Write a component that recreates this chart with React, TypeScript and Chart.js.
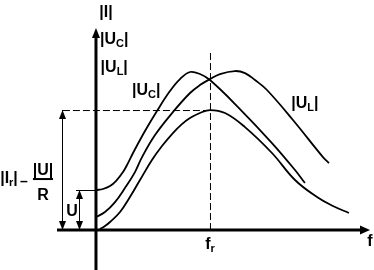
import React, { useEffect, useRef } from "react";
import { Chart, registerables } from "chart.js";

Chart.register(...registerables);

// Normalised units: frequency in f/f_r, amplitude relative to |I_r|
const F_RES = 1;
const I_RES = 1;
const U_SRC = 0.333;

const FREQ_I = [0.035, 0.079, 0.123, 0.211, 0.298, 0.386, 0.491, 0.579, 0.675, 0.754, 0.825, 0.912, 1.0, 1.132, 1.307, 1.544, 1.746, 1.939, 2.079, 2.219];
const AMP_I = [0.008, 0.033, 0.067, 0.15, 0.275, 0.417, 0.583, 0.7, 0.808, 0.883, 0.933, 0.975, 1.0, 0.975, 0.858, 0.642, 0.417, 0.275, 0.2, 0.142];

const FREQ_UC = [0, 0.061, 0.123, 0.175, 0.237, 0.281, 0.325, 0.43, 0.535, 0.649, 0.737, 0.825, 0.912, 1.0, 1.246, 1.544, 1.746, 1.833];
const AMP_UC = [0.333, 0.342, 0.367, 0.408, 0.483, 0.558, 0.642, 0.825, 0.992, 1.158, 1.258, 1.317, 1.3, 1.25, 1.025, 0.725, 0.5, 0.392];

const FREQ_UL = [0, 0.079, 0.167, 0.254, 0.342, 0.404, 0.518, 0.675, 0.825, 0.912, 1.0, 1.088, 1.219, 1.307, 1.395, 1.5, 1.728, 1.991, 2.044];
const AMP_UL = [0.108, 0.15, 0.233, 0.35, 0.483, 0.608, 0.792, 0.983, 1.142, 1.208, 1.258, 1.3, 1.325, 1.308, 1.25, 1.167, 0.917, 0.608, 0.558];

const FONT = '"Liberation Sans", Arial, sans-serif';

type Part = [string, boolean];

function drawRich(ctx: CanvasRenderingContext2D, parts: Part[], cx: number, cy: number, size: number) {
  const main = `bold ${size}px ${FONT}`;
  const sub = `bold ${Math.round(size * 0.7)}px ${FONT}`;
  let w = 0;
  for (const [t, s] of parts) {
    ctx.font = s ? sub : main;
    w += ctx.measureText(t).width;
  }
  let xx = cx - w / 2;
  const base = cy + size * 0.36;
  ctx.textBaseline = "alphabetic";
  ctx.textAlign = "left";
  for (const [t, s] of parts) {
    ctx.font = s ? sub : main;
    ctx.fillText(t, xx, base + (s ? size * 0.18 : 0));
    xx += ctx.measureText(t).width;
  }
}

function arrowHead(ctx: CanvasRenderingContext2D, tx: number, ty: number, dx: number, dy: number, len: number, half: number) {
  const bx = tx - dx * len;
  const by = ty - dy * len;
  ctx.beginPath();
  ctx.moveTo(tx, ty);
  ctx.lineTo(bx - dy * half, by + dx * half);
  ctx.lineTo(bx + dy * half, by - dx * half);
  ctx.closePath();
  ctx.fill();
}

function seg(ctx: CanvasRenderingContext2D, x1: number, y1: number, x2: number, y2: number) {
  ctx.beginPath();
  ctx.moveTo(x1, y1);
  ctx.lineTo(x2, y2);
  ctx.stroke();
}

const annot = {
  id: "annot",
  afterDatasetsDraw(chart: any) {
    const { ctx } = chart;
    const X = (v: number) => chart.scales.x.getPixelForValue(v);
    const Y = (v: number) => chart.scales.y.getPixelForValue(v);
    ctx.save();
    ctx.strokeStyle = "#000";
    ctx.fillStyle = "#000";

    // axes
    ctx.lineWidth = 3;
    const ox = X(0), oy = Y(0);
    seg(ctx, ox, Y(-0.34), ox, Y(1.6));
    arrowHead(ctx, ox, Y(1.683), 0, -1, 10, 4);
    seg(ctx, X(-0.342), oy, X(2.33), oy);
    arrowHead(ctx, X(2.404), oy, 1, 0, 10, 4.5);

    // dashed guides
    ctx.lineWidth = 1;
    ctx.setLineDash([7, 3]);
    seg(ctx, X(-0.29), Y(I_RES) + 0.5, X(F_RES), Y(I_RES) + 0.5);
    seg(ctx, X(F_RES) + 0.5, oy, X(F_RES) + 0.5, Y(1.5));
    ctx.setLineDash([]);

    // dimension arrows
    const ax1 = Math.round(X(-0.298)) + 0.5;
    seg(ctx, ax1, oy, ax1, Y(I_RES));
    arrowHead(ctx, ax1, Y(I_RES), 0, -1, 9, 3.5);
    arrowHead(ctx, ax1, oy, 0, 1, 9, 3.5);
    const ax2 = Math.round(X(-0.149)) + 0.5;
    seg(ctx, ax2, oy, ax2, Y(U_SRC));
    arrowHead(ctx, ax2, Y(U_SRC), 0, -1, 9, 3.5);
    arrowHead(ctx, ax2, oy, 0, 1, 9, 3.5);
    seg(ctx, X(-0.175), Math.round(Y(U_SRC)) + 0.5, ox, Math.round(Y(U_SRC)) + 0.5);

    // labels
    const S = 16;
    drawRich(ctx, [["|I|", false]], X(0.088), Y(1.825), S);
    drawRich(ctx, [["|U", false], ["C", true], ["|", false]], X(0.16), Y(1.6), S);
    drawRich(ctx, [["|U", false], ["L", true], ["|", false]], X(0.16), Y(1.367), S);
    drawRich(ctx, [["|U", false], ["C", true], ["|", false]], X(0.44), Y(1.175), S);
    drawRich(ctx, [["|U", false], ["L", true], ["|", false]], X(1.833), Y(1.067), S);
    drawRich(ctx, [["|I", false], ["r", true], ["|", false]], X(-0.763), Y(0.44), S);
    drawRich(ctx, [["–", false]], X(-0.632), Y(0.41), 14);
    drawRich(ctx, [["|U|", false]], X(-0.465), Y(0.51), S);
    ctx.lineWidth = 2;
    seg(ctx, X(-0.553), Y(0.425), X(-0.377), Y(0.425));
    drawRich(ctx, [["R", false]], X(-0.465), Y(0.3), S);
    drawRich(ctx, [["U", false]], X(-0.211), Y(0.167), S);
    drawRich(ctx, [["f", false], ["r", true]], X(F_RES), Y(-0.108), S);
    drawRich(ctx, [["f", false]], X(2.404), Y(-0.083), S);
    ctx.restore();
  },
};

function series(fs: number[], vs: number[]) {
  return fs.map((f, i) => ({ x: f, y: vs[i] }));
}

export default function App() {
  const ref = useRef<HTMLCanvasElement>(null);
  useEffect(() => {
    if (!ref.current) return;
    const common = {
      showLine: true,
      borderColor: "#000",
      borderWidth: 1.8,
      pointRadius: 0,
      fill: false,
      tension: 0.4,
    };
    const chart = new Chart(ref.current, {
      type: "scatter",
      data: {
        datasets: [
          { ...common, label: "|I|", data: series(FREQ_I, AMP_I) },
          { ...common, label: "|U_C|", data: series(FREQ_UC, AMP_UC) },
          { ...common, label: "|U_L|", data: series(FREQ_UL, AMP_UL) },
        ],
      },
      options: {
        animation: false,
        responsive: false,
        layout: { padding: 0 },
        plugins: { legend: { display: false }, tooltip: { enabled: false } },
        scales: {
          x: { type: "linear", display: false, min: -0.842, max: 2.439 },
          y: { type: "linear", display: false, min: -0.333, max: 1.917 },
        },
      },
      plugins: [annot],
    });
    return () => chart.destroy();
  }, []);
  return (
    <canvas
      ref={ref}
      width={374}
      height={270}
      style={{ position: "fixed", left: 0, top: 0, width: 374, height: 270, display: "block", background: "#fff" }}
    />
  );
}
